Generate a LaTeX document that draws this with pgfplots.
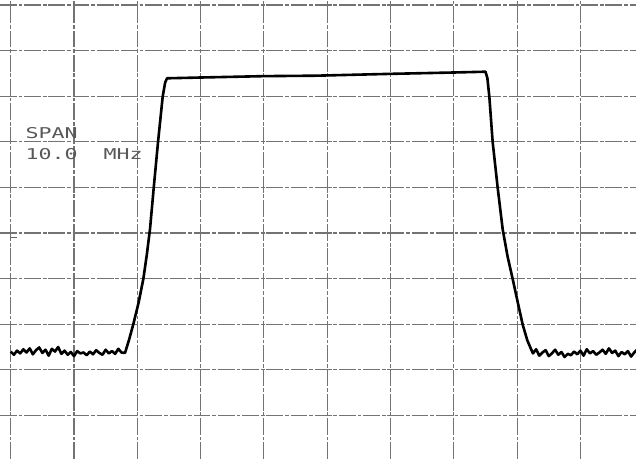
\documentclass[border=0pt]{standalone}
\usepackage{pgfplots}
\pgfplotsset{compat=1.18}
\usepackage{fontspec}
\newfontfamily\scrfont{DejaVu Sans Mono}

% spectrum trace, graticule units (10 x 10 divisions)
\begin{document}
\begin{tikzpicture}
\begin{axis}[
    width=12cm, height=8.66cm,
    scale only axis,
    xmin=-0.169, xmax=9.878,
    ymin=0.044, ymax=10.11,
    xtick={0,1,...,10}, ytick={0,1,...,10},
    xticklabels={}, yticklabels={},
    tick style={draw=none},
    axis line style={draw=none},
    grid=major,
    grid style={black!55, line width=0.6pt, dash pattern=on 9pt off 1pt on 2pt off 1pt},
    clip=true,
]
\addplot[black, line width=1.4pt, line join=round] coordinates {
    (0.00,2.40) (0.05,2.33) (0.10,2.42) (0.15,2.36) (0.20,2.45) (0.25,2.38)
    (0.30,2.47) (0.35,2.34) (0.40,2.43) (0.45,2.49) (0.50,2.37) (0.55,2.44)
    (0.60,2.31) (0.65,2.46) (0.70,2.40) (0.75,2.50) (0.80,2.35) (0.85,2.42)
    (0.90,2.33) (0.95,2.39) (1.00,2.30) (1.05,2.41) (1.10,2.36) (1.15,2.38)
    (1.20,2.32) (1.25,2.40) (1.30,2.34) (1.35,2.43) (1.40,2.37) (1.45,2.33)
    (1.50,2.44) (1.55,2.36) (1.60,2.41) (1.65,2.35) (1.70,2.46) (1.75,2.38)
    (1.806,2.37)
    (1.87,2.66) (1.937,3.00) (2.02,3.47) (2.095,3.99) (2.15,4.52)
    (2.201,5.09) (2.26,6.00) (2.327,6.99) (2.401,7.99) (2.44,8.30) (2.47,8.393)
    (3.0,8.41) (4.0,8.44) (4.823,8.45) (6.0,8.49) (7.0,8.52) (7.50,8.537)
    (7.53,8.40) (7.561,7.99) (7.614,6.99) (7.693,5.99) (7.772,5.08) (7.85,4.48)
    (7.930,3.99) (8.01,3.48) (8.088,2.99) (8.16,2.65) (8.219,2.456)
    (8.25,2.36) (8.30,2.45) (8.35,2.31) (8.40,2.38) (8.45,2.43) (8.50,2.30)
    (8.55,2.36) (8.60,2.44) (8.65,2.33) (8.70,2.39) (8.75,2.28) (8.80,2.35)
    (8.85,2.32) (8.90,2.40) (8.95,2.34) (9.00,2.42) (9.05,2.31) (9.10,2.45)
    (9.15,2.36) (9.20,2.41) (9.25,2.33) (9.30,2.38) (9.35,2.44) (9.40,2.35)
    (9.45,2.47) (9.50,2.37) (9.55,2.42) (9.60,2.30) (9.65,2.39) (9.70,2.34)
    (9.75,2.41) (9.80,2.29) (9.85,2.38) (9.90,2.45)
};
\node[anchor=west, text=black!65, xscale=1.45, font=\scrfont\fontsize{8}{8}\selectfont, inner sep=0pt]
    at (axis cs:0.226,7.19) {SPAN};
\node[anchor=west, text=black!65, xscale=1.45, font=\scrfont\fontsize{8}{8}\selectfont, inner sep=0pt]
    at (axis cs:0.226,6.73) {10.0\hspace{0.17cm} MHz};
\draw[black!60, line width=1pt] (axis cs:0,4.90) -- (axis cs:0.1,4.90);
\end{axis}
\pgfresetboundingbox
\useasboundingbox (current axis.south west) rectangle (current axis.north east);
\end{tikzpicture}
\end{document}
